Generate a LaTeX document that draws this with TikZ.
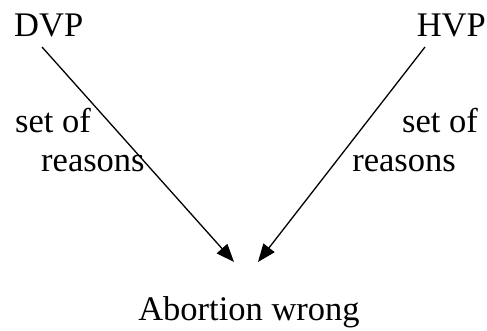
\documentclass[tikz,border=0pt]{standalone}
\usepackage{fontspec}
\setmainfont{Liberation Serif}
\usetikzlibrary{arrows.meta,positioning}
\tikzset{
  viewlabel/.style={inner sep=0pt,font=\fontsize{34.5}{40}\selectfont},
  reasonlabel/.style={inner sep=0pt,font=\fontsize{34.5}{40}\selectfont},
  reasonarrow/.style={-{Triangle[length=18pt,width=14pt]},line width=1.3pt}
}
\begin{document}
\begin{tikzpicture}[x=1pt,y=-1pt]
\useasboundingbox (0,0) rectangle (487,331);
\node[viewlabel,anchor=base west] (dvp) at (14,37) {DVP};
\node[viewlabel,anchor=base east] (hvp) at (486,37) {HVP};
\node[viewlabel,anchor=base] (wrong) at (249,320) {Abortion wrong};

% Start and end points of the two arrows.
\coordinate (dvpfoot) at (42,47);
\coordinate (hvpfoot) at (425,47);
\coordinate (lefttip) at (234,262);
\coordinate (righttip) at (258,262);

\draw[reasonarrow] (dvpfoot) -- (lefttip);
\draw[reasonarrow] (hvpfoot) -- (righttip);

% Labels beside the arrows.
\node[reasonlabel,anchor=base west] (lset) at (15,133) {set of};
\node[reasonlabel,anchor=base west] (lreasons) at (41,172) {reasons};
\node[reasonlabel,anchor=base east] (rset) at (478,133) {set of};
\node[reasonlabel,anchor=base east] (rreasons) at (456,172) {reasons};
\end{tikzpicture}
\end{document}
